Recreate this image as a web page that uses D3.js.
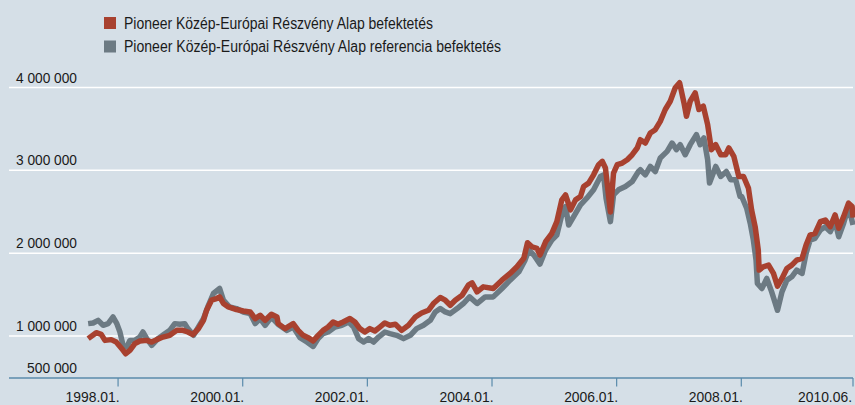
<!DOCTYPE html>
<html>
<head>
<meta charset="utf-8">
<script src="https://cdn.jsdelivr.net/npm/d3@7"></script>
<style>
  html, body { margin: 0; padding: 0; background: #d5dfe7; }
  svg { display: block; }
  text { font-family: "Liberation Sans", Arial, sans-serif; fill: #1a1a1a; }
</style>
</head>
<body>
<div id="chart"></div>
<script>
// Legend / series names
const seriesNames = [
  'Pioneer Közép-Európai Részvény Alap befektetés',
  'Pioneer Közép-Európai Részvény Alap referencia befektetés'
];

// Fund (red) - decimal year / value in HUF
const fundYears = [
  1997.52, 1997.65, 1997.73, 1997.79, 1997.89, 1997.97, 1998.06, 1998.12, 1998.19, 1998.27,
  1998.35, 1998.46, 1998.54, 1998.62, 1998.72, 1998.83, 1998.94, 1999.04, 1999.12, 1999.20,
  1999.29, 1999.37, 1999.42, 1999.50, 1999.58, 1999.63, 1999.69, 1999.77, 1999.90, 2000.01,
  2000.12, 2000.20, 2000.28, 2000.36, 2000.46, 2000.55, 2000.57, 2000.68, 2000.81, 2000.89,
  2000.97, 2001.05, 2001.13, 2001.21, 2001.29, 2001.37, 2001.45, 2001.53, 2001.61, 2001.72,
  2001.80, 2001.88, 2001.96, 2002.04, 2002.12, 2002.20, 2002.28, 2002.36, 2002.45, 2002.55,
  2002.66, 2002.77, 2002.87, 2002.98, 2003.06, 2003.17, 2003.25, 2003.33, 2003.41, 2003.52,
  2003.62, 2003.68, 2003.76, 2003.86, 2004.02, 2004.16, 2004.29, 2004.40, 2004.51, 2004.57,
  2004.64, 2004.72, 2004.77, 2004.86, 2004.96, 2005.04, 2005.12, 2005.18, 2005.26, 2005.34,
  2005.42, 2005.47, 2005.55, 2005.63, 2005.71, 2005.77, 2005.82, 2005.90, 2005.95, 2006.01,
  2006.09, 2006.17, 2006.25, 2006.33, 2006.38, 2006.46, 2006.54, 2006.62, 2006.70, 2006.78,
  2006.86, 2006.94, 2007.01, 2007.08, 2007.12, 2007.18, 2007.26, 2007.32, 2007.39, 2007.46,
  2007.52, 2007.59, 2007.67, 2007.75, 2007.80, 2007.88, 2007.96, 2008.05, 2008.16, 2008.23,
  2008.31, 2008.38, 2008.40, 2008.49, 2008.61, 2008.72, 2008.81, 2008.91, 2009.02, 2009.13,
  2009.24, 2009.36, 2009.45, 2009.54, 2009.65, 2009.77, 2009.88, 2009.99, 2010.10, 2010.18,
  2010.29, 2010.40, 2010.48, 2010.50
];
const fundValues = [
  969000, 1041000, 1021000, 948000, 957000, 928000, 848000, 787000, 827000, 908000,
  940000, 948000, 928000, 957000, 988000, 1009000, 1069000, 1069000, 1049000, 1017000,
  1090000, 1190000, 1311000, 1433000, 1453000, 1473000, 1393000, 1351000, 1320000, 1303000,
  1291000, 1211000, 1251000, 1190000, 1263000, 1230000, 1150000, 1090000, 1150000, 1069000,
  1009000, 981000, 940000, 1009000, 1069000, 1109000, 1170000, 1142000, 1170000, 1211000,
  1170000, 1090000, 1049000, 1090000, 1061000, 1109000, 1158000, 1130000, 1142000, 1069000,
  1130000, 1230000, 1279000, 1311000, 1393000, 1465000, 1433000, 1372000, 1433000, 1493000,
  1614000, 1642000, 1533000, 1594000, 1574000, 1675000, 1756000, 1836000, 1938000, 2127000,
  2078000, 2059000, 1978000, 2139000, 2240000, 2381000, 2644000, 2704000, 2523000, 2644000,
  2684000, 2805000, 2846000, 2946000, 3068000, 3108000, 3028000, 2498000, 2967000, 3068000,
  3088000, 3128000, 3189000, 3270000, 3370000, 3330000, 3451000, 3491000, 3592000, 3734000,
  3834000, 3996000, 4057000, 3815000, 3653000, 3834000, 3936000, 3734000, 3774000, 3552000,
  3249000, 3310000, 3189000, 3189000, 3270000, 3168000, 2926000, 2926000, 2785000, 2523000,
  2320000, 2038000, 1796000, 1836000, 1856000, 1756000, 1602000, 1695000, 1816000, 1856000,
  1917000, 1938000, 2099000, 2220000, 2240000, 2381000, 2401000, 2320000, 2462000, 2301000,
  2441000, 2604000, 2563000, 2430000
];

// Reference (grey)
const refYears = [
  1997.52, 1997.60, 1997.68, 1997.76, 1997.84, 1997.92, 1997.98, 1998.03, 1998.08, 1998.14,
  1998.19, 1998.27, 1998.35, 1998.40, 1998.46, 1998.54, 1998.64, 1998.75, 1998.83, 1998.91,
  1998.99, 1999.07, 1999.12, 1999.21, 1999.29, 1999.37, 1999.45, 1999.53, 1999.63, 1999.69,
  1999.79, 1999.90, 2000.01, 2000.12, 2000.20, 2000.28, 2000.36, 2000.46, 2000.57, 2000.71,
  2000.81, 2000.92, 2001.03, 2001.13, 2001.21, 2001.29, 2001.37, 2001.48, 2001.59, 2001.70,
  2001.78, 2001.86, 2001.94, 2002.02, 2002.10, 2002.18, 2002.28, 2002.36, 2002.47, 2002.58,
  2002.69, 2002.79, 2002.90, 2003.01, 2003.09, 2003.17, 2003.25, 2003.33, 2003.44, 2003.54,
  2003.64, 2003.76, 2003.89, 2004.02, 2004.16, 2004.29, 2004.43, 2004.53, 2004.59, 2004.67,
  2004.77, 2004.86, 2004.96, 2005.04, 2005.12, 2005.18, 2005.23, 2005.31, 2005.42, 2005.52,
  2005.63, 2005.74, 2005.79, 2005.83, 2005.90, 2005.95, 2006.03, 2006.14, 2006.25, 2006.35,
  2006.38, 2006.46, 2006.54, 2006.62, 2006.70, 2006.81, 2006.89, 2006.96, 2007.02, 2007.10,
  2007.18, 2007.28, 2007.34, 2007.40, 2007.46, 2007.49, 2007.59, 2007.67, 2007.76, 2007.83,
  2007.91, 2007.98, 2008.01, 2008.12, 2008.20, 2008.27, 2008.33, 2008.36, 2008.46, 2008.57,
  2008.68, 2008.81, 2008.91, 2009.02, 2009.13, 2009.24, 2009.36, 2009.45, 2009.54, 2009.65,
  2009.77, 2009.88, 2009.99, 2010.10, 2010.18, 2010.29, 2010.40, 2010.50
];
const refValues = [
  1150000, 1158000, 1190000, 1130000, 1150000, 1230000, 1150000, 1049000, 888000, 867000,
  948000, 948000, 988000, 1049000, 969000, 888000, 969000, 1029000, 1069000, 1150000,
  1142000, 1150000, 1090000, 1009000, 1109000, 1211000, 1372000, 1514000, 1574000, 1433000,
  1351000, 1332000, 1291000, 1271000, 1150000, 1211000, 1130000, 1230000, 1140000, 1069000,
  1109000, 981000, 928000, 875000, 969000, 1029000, 1049000, 1109000, 1130000, 1170000,
  1109000, 969000, 928000, 969000, 928000, 988000, 1049000, 1029000, 1009000, 969000,
  1009000, 1090000, 1130000, 1190000, 1291000, 1332000, 1291000, 1271000, 1332000, 1393000,
  1473000, 1393000, 1473000, 1473000, 1574000, 1675000, 1775000, 1917000, 2038000, 1978000,
  1869000, 2038000, 2159000, 2220000, 2462000, 2563000, 2341000, 2441000, 2583000, 2664000,
  2765000, 2926000, 2946000, 2664000, 2381000, 2704000, 2765000, 2805000, 2865000, 2986000,
  3007000, 2946000, 3047000, 2986000, 3149000, 3229000, 3330000, 3249000, 3310000, 3189000,
  3310000, 3431000, 3310000, 3391000, 3128000, 2846000, 3047000, 2926000, 2986000, 2886000,
  2886000, 2684000, 2684000, 2543000, 2361000, 2159000, 1917000, 1635000, 1574000, 1695000,
  1533000, 1311000, 1533000, 1675000, 1715000, 1796000, 1756000, 1998000, 2159000, 2180000,
  2280000, 2320000, 2260000, 2381000, 2199000, 2361000, 2563000, 2341000
];

// Axis ticks
const xTickYears = [1998, 2000, 2002, 2004, 2006, 2008, 2010.5];
const xTickLabels = ['1998.01.', '2000.01.', '2002.01.', '2004.01.', '2006.01.', '2008.01.', '2010.06.'];
const yTicks = [500000, 1000000, 2000000, 3000000, 4000000];

const width = 855, height = 405;
const colors = { fund: '#a8412f', ref: '#6c7a83', grid: '#ffffff', axis: '#5a8bab' };

const svg = d3.select('#chart').append('svg')
  .attr('width', width)
  .attr('height', height);

svg.append('rect')
  .attr('width', width)
  .attr('height', height)
  .attr('fill', '#d5dfe7');

// x axis is compressed after 2008 in the original, hence the 3-stop domain
const x = d3.scaleLinear()
  .domain([1996.25, 2008, 2010.5])
  .range([9, 741.3, 853]);

const y = d3.scaleLinear()
  .domain([500000, 4000000])
  .range([377.5, 87.5]);

const fmt = d3.formatLocale({ decimal: ',', thousands: ' ', grouping: [3], currency: ['', ''] }).format(',d');

//Gridlines
svg.append('g')
  .selectAll('line')
  .data(yTicks.filter(d => d > 500000))
  .enter().append('line')
  .attr('x1', 9)
  .attr('x2', 853)
  .attr('y1', d => y(d))
  .attr('y2', d => y(d))
  .attr('stroke', colors.grid)
  .attr('stroke-width', 1.5);

//Y labels
svg.append('g')
  .selectAll('text')
  .data(yTicks)
  .enter().append('text')
  .attr('x', 77)
  .attr('y', d => y(d) - 5)
  .attr('text-anchor', 'end')
  .style('font-size', '14.5px')
  .attr('textLength', d => d === 500000 ? 50 : 61)
  .attr('lengthAdjust', 'spacingAndGlyphs')
  .text(d => fmt(d));

//Lines
const line = d3.line()
  .curve(d3.curveLinear)
  .x(d => x(d[0]))
  .y(d => y(d[1]));

const refData = refYears.map((t, i) => [t, refValues[i]]);
const fundData = fundYears.map((t, i) => [t, fundValues[i]]);

svg.append('path')
  .datum(refData)
  .attr('fill', 'none')
  .attr('stroke', colors.ref)
  .attr('stroke-width', 5.5)
  .attr('stroke-linejoin', 'round')
  .attr('d', line);

svg.append('path')
  .datum(fundData)
  .attr('fill', 'none')
  .attr('stroke', colors.fund)
  .attr('stroke-width', 5.5)
  .attr('stroke-linejoin', 'round')
  .attr('d', line);

//X axis
const xAxis = svg.append('g').attr('class', 'axis-x');

xAxis.append('line')
  .attr('x1', 9)
  .attr('x2', 853)
  .attr('y1', y(500000) + 0.5)
  .attr('y2', y(500000) + 0.5)
  .attr('stroke', colors.axis)
  .attr('stroke-width', 1.5);

xAxis.selectAll('.tick')
  .data(xTickYears)
  .enter().append('line')
  .attr('class', 'tick')
  .attr('x1', d => x(d))
  .attr('x2', d => x(d))
  .attr('y1', y(500000) + 0.5)
  .attr('y2', y(500000) + 9)
  .attr('stroke', colors.axis)
  .attr('stroke-width', 1.2);

//Labels sit just left of their tick; keep the last one inside the frame
xAxis.selectAll('.tick-label')
  .data(xTickYears)
  .enter().append('text')
  .attr('class', 'tick-label')
  .attr('x', d => Math.min(x(d) + 1.5, width - 3))
  .attr('y', 402)
  .attr('text-anchor', 'end')
  .style('font-size', '14.5px')
  .attr('textLength', 54)
  .attr('lengthAdjust', 'spacingAndGlyphs')
  .text((d, i) => xTickLabels[i]);

//Legend
const legend = svg.append('g')
  .selectAll('g')
  .data(seriesNames)
  .enter().append('g')
  .attr('transform', (d, i) => 'translate(104,' + (17 + i * 23.5) + ')');

legend.append('rect')
  .attr('width', 12)
  .attr('height', 12)
  .attr('fill', (d, i) => i === 0 ? colors.fund : colors.ref);

// the original uses a condensed face, so squeeze the text to its width
legend.append('text')
  .attr('x', 20)
  .attr('y', 11.5)
  .style('font-size', '16px')
  .attr('textLength', (d, i) => i === 0 ? 309 : 377)
  .attr('lengthAdjust', 'spacingAndGlyphs')
  .text(d => d);
</script>
</body>
</html>
